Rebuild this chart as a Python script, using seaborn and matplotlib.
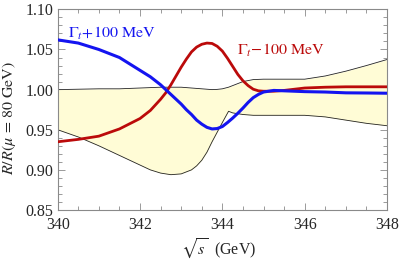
#!/usr/bin/env python3
"""R/R(mu=80 GeV) vs sqrt(s) near the top threshold, with width variations."""

import matplotlib

matplotlib.use("Agg")
import matplotlib.pyplot as plt
import pandas as pd
import seaborn as sns
from matplotlib.ticker import MultipleLocator, FormatStrFormatter

# --- data ------------------------------------------------------------------
x_curve = [340.0, 340.5, 341.0, 341.5, 342.0, 342.25, 342.5, 342.625, 342.75, 342.875,
           343.0, 343.125, 343.25, 343.375, 343.5, 343.625, 343.75, 343.875, 344.0,
           344.125, 344.25, 344.375, 344.5, 344.625, 344.75, 344.875, 345.0, 345.25,
           345.5, 346.0, 346.5, 347.0, 347.5, 348.0]
gamma_plus = [1.062, 1.058, 1.050, 1.040, 1.024, 1.016, 1.006, 1.000, 0.994, 0.988,
              0.982, 0.975, 0.969, 0.962, 0.957, 0.953, 0.951, 0.9515, 0.954,
              0.959, 0.9645, 0.9705, 0.977, 0.984, 0.990, 0.994, 0.997, 0.999,
              0.9985, 0.9975, 0.997, 0.996, 0.9958, 0.9955]
gamma_minus = [0.935, 0.938, 0.942, 0.951, 0.964, 0.974, 0.988, 0.996, 1.006, 1.017,
               1.028, 1.038, 1.047, 1.053, 1.0565, 1.058, 1.0575, 1.054, 1.048,
               1.039, 1.029, 1.019, 1.011, 1.005, 1.0005, 0.9985, 0.998, 0.998,
               0.999, 1.002, 1.003, 1.0035, 1.0035, 1.0035]

x_band = [340.0, 340.5, 341.0, 341.5, 342.0, 342.25, 342.5, 342.75, 343.0, 343.25,
          343.375, 343.5, 343.625, 343.75, 343.875, 344.0, 344.15, 344.25, 344.5,
          344.75, 345.0, 345.5, 346.0, 346.5, 347.0, 347.5, 348.0]
band_lo = [0.950, 0.941, 0.930, 0.918, 0.906, 0.900, 0.896, 0.894, 0.895, 0.900,
           0.905, 0.912, 0.922, 0.935, 0.947, 0.959, 0.973, 0.971, 0.969,
           0.968, 0.968, 0.968, 0.968, 0.966, 0.962, 0.958, 0.955]
band_hi = [1.000, 1.0005, 1.001, 1.001, 1.002, 1.0025, 1.003, 1.003, 1.003, 1.002,
           1.0015, 1.001, 1.0005, 1.000, 1.0003, 1.001, 1.003, 1.005, 1.010,
           1.0125, 1.013, 1.013, 1.013, 1.017, 1.023, 1.030, 1.0375]

x_ticks = [340, 342, 344, 346, 348]
y_ticks = [0.85, 0.90, 0.95, 1.00, 1.05, 1.10]

BLUE = "#1414f0"
RED = "#bb0a0a"
BAND = "#fffcd6"
FRAME = "#8a8a8a"

sns.set_style("ticks")
plt.rcParams["font.family"] = ["Liberation Serif", "DejaVu Serif"]
plt.rcParams["mathtext.fontset"] = "stix"
plt.rcParams["font.size"] = 11


def main() -> None:
    curves = pd.DataFrame({"x": x_curve, "plus": gamma_plus, "minus": gamma_minus})
    band = pd.DataFrame({"x": x_band, "lo": band_lo, "hi": band_hi})

    fig = plt.figure(figsize=(3.99, 2.60), dpi=100)
    ax = fig.add_axes([0.1446, 0.1923, 0.8254, 0.7717])

    ax.fill_between(band["x"], band["lo"], band["hi"], color=BAND, linewidth=0, zorder=1)
    sns.lineplot(data=band, x="x", y="lo", ax=ax, color="#222222", linewidth=0.6, zorder=2)
    sns.lineplot(data=band, x="x", y="hi", ax=ax, color="#222222", linewidth=0.6, zorder=2)
    sns.lineplot(data=curves, x="x", y="minus", ax=ax, color=RED, linewidth=2.0, zorder=3)
    sns.lineplot(data=curves, x="x", y="plus", ax=ax, color=BLUE, linewidth=2.2, zorder=4)

    ax.text(340.25, 1.0705, r"$\Gamma_t\!+\!100\ \mathrm{MeV}$", color=BLUE,
            fontsize=11.5, va="center", ha="left")
    ax.text(344.35, 1.049, r"$\Gamma_t\!-\!100\ \mathrm{MeV}$", color=RED,
            fontsize=11.5, va="center", ha="left")

    ax.set_xlim(340, 348)
    ax.set_ylim(0.85, 1.10)
    ax.set_xticks(x_ticks)
    ax.set_yticks(y_ticks)
    ax.yaxis.set_major_formatter(FormatStrFormatter("%.2f"))
    ax.xaxis.set_minor_locator(MultipleLocator(0.5))
    ax.yaxis.set_minor_locator(MultipleLocator(0.01))
    ax.tick_params(which="both", direction="in", top=True, right=True, color=FRAME,
                   width=0.6, labelsize=11.5, pad=3)
    ax.tick_params(axis="x", which="major", pad=5)
    ax.tick_params(which="major", length=5)
    ax.tick_params(which="minor", length=2.8)
    for spine in ax.spines.values():
        spine.set_visible(True)
        spine.set_color(FRAME)
        spine.set_linewidth(0.8)

    ax.set_xlabel(r"$\sqrt{s}$  (GeV)", fontsize=11.5)
    ax.set_ylabel(r"$R/R(\mu\,=\,80\ \mathrm{GeV})$", fontsize=11.5)
    ax.xaxis.set_label_coords(0.49, -0.135)
    ax.yaxis.set_label_coords(-0.122, 0.46)

    fig.savefig("out.png", dpi=100)
    plt.close(fig)


if __name__ == "__main__":
    main()
